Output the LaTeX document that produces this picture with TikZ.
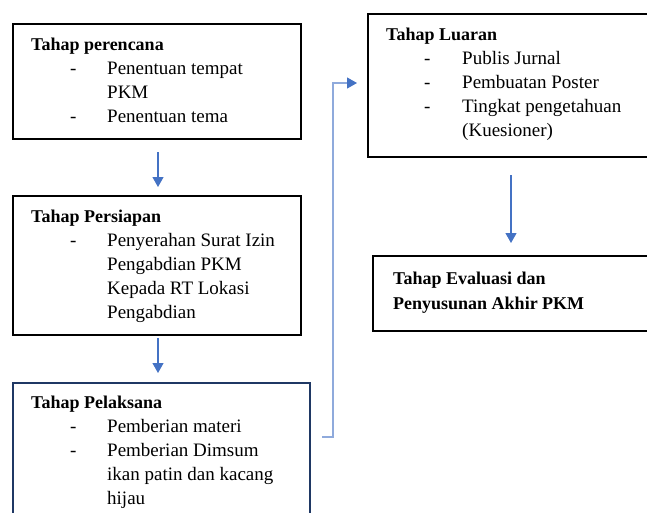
\documentclass[tikz,border=0pt]{standalone}
\usepackage{fontspec}
\setmainfont{Liberation Serif}
\usetikzlibrary{arrows.meta}
\definecolor{arrblue}{HTML}{4472C4}
\definecolor{lineblue}{HTML}{8FAADC}
\definecolor{navy}{HTML}{1F3864}
\tikzset{
  box/.style={draw=black, line width=1.8pt, rectangle, inner sep=0pt},
  txt/.style={anchor=base west, inner sep=0pt, font=\fontsize{19}{24}\selectfont},
  ttl/.style={txt, font=\fontsize{18}{24}\selectfont\bfseries},
  flow/.style={draw=arrblue, line width=1.2pt, -{Triangle[length=10pt,width=11pt]}},
  link/.style={draw=lineblue, line width=1.2pt, -{Triangle[length=10pt,width=11pt,color=arrblue]}}
}
\begin{document}
\begin{tikzpicture}[x=1pt,y=-1pt]
\useasboundingbox (0,0) rectangle (647,512);
\clip (0,0) rectangle (647,512);
% boxes
\node[box, minimum width=288pt, minimum height=115pt] (b1) at (157,81.5) {};
\node[box, minimum width=288pt, minimum height=139pt] (b2) at (157,265.5) {};
\node[box, draw=navy, minimum width=297pt, minimum height=160pt] (b3) at (161.5,463) {};
\node[box, minimum width=300pt, minimum height=143pt] (b4) at (518,85.5) {};
\node[box, minimum width=300pt, minimum height=75pt] (b5) at (523,293.5) {};
% box 1 text
\node[ttl] (t1) at (31,50) {Tahap perencana};
\node[txt] (d1a) at (70,74) {-};
\node[txt] (i1a) at (107,74) {Penentuan tempat};
\node[txt] (i1b) at (107,98) {PKM};
\node[txt] (d1c) at (70,122) {-};
\node[txt] (i1c) at (107,122) {Penentuan tema};
% box 2 text
\node[ttl] (t2) at (31,222) {Tahap Persiapan};
\node[txt] (d2a) at (70,246) {-};
\node[txt] (i2a) at (107,246) {Penyerahan Surat Izin};
\node[txt] (i2b) at (107,270) {Pengabdian PKM};
\node[txt] (i2c) at (107,294) {Kepada RT Lokasi};
\node[txt] (i2d) at (107,318) {Pengabdian};
% box 3 text
\node[ttl] (t3) at (31,408) {Tahap Pelaksana};
\node[txt] (d3a) at (70,432) {-};
\node[txt] (i3a) at (107,432) {Pemberian materi};
\node[txt] (d3b) at (70,456) {-};
\node[txt] (i3b) at (107,456) {Pemberian Dimsum};
\node[txt] (i3c) at (107,480) {ikan patin dan kacang};
\node[txt] (i3d) at (107,504) {hijau};
% box 4 text
\node[ttl] (t4) at (386,40) {Tahap Luaran};
\node[txt] (d4a) at (424,64) {-};
\node[txt] (i4a) at (462,64) {Publis Jurnal};
\node[txt] (d4b) at (424,88) {-};
\node[txt] (i4b) at (462,88) {Pembuatan Poster};
\node[txt] (d4c) at (424,112) {-};
\node[txt] (i4c) at (462,112) {Tingkat pengetahuan};
\node[txt] (i4d) at (462,136) {(Kuesioner)};
% box 5 text
\node[ttl] (t5a) at (393,284) {Tahap Evaluasi dan};
\node[ttl] (t5b) at (393,309) {Penyusunan Akhir PKM};
% connector end points
\coordinate (a1s) at (158,152);
\coordinate (a1e) at (158,187);
\coordinate (a2s) at (158,338);
\coordinate (a2e) at (158,373);
\coordinate (a3s) at (511,175);
\coordinate (a3e) at (511,243);
\coordinate (cs) at (322,437);
\coordinate (cm) at (333,83);
\coordinate (ce) at (357,83);
% connectors
\draw[flow] (a1s) -- (a1e);
\draw[flow] (a2s) -- (a2e);
\draw[flow] (a3s) -- (a3e);
\draw[link] (cs) -| (cm) -- (ce);
\end{tikzpicture}
\end{document}
